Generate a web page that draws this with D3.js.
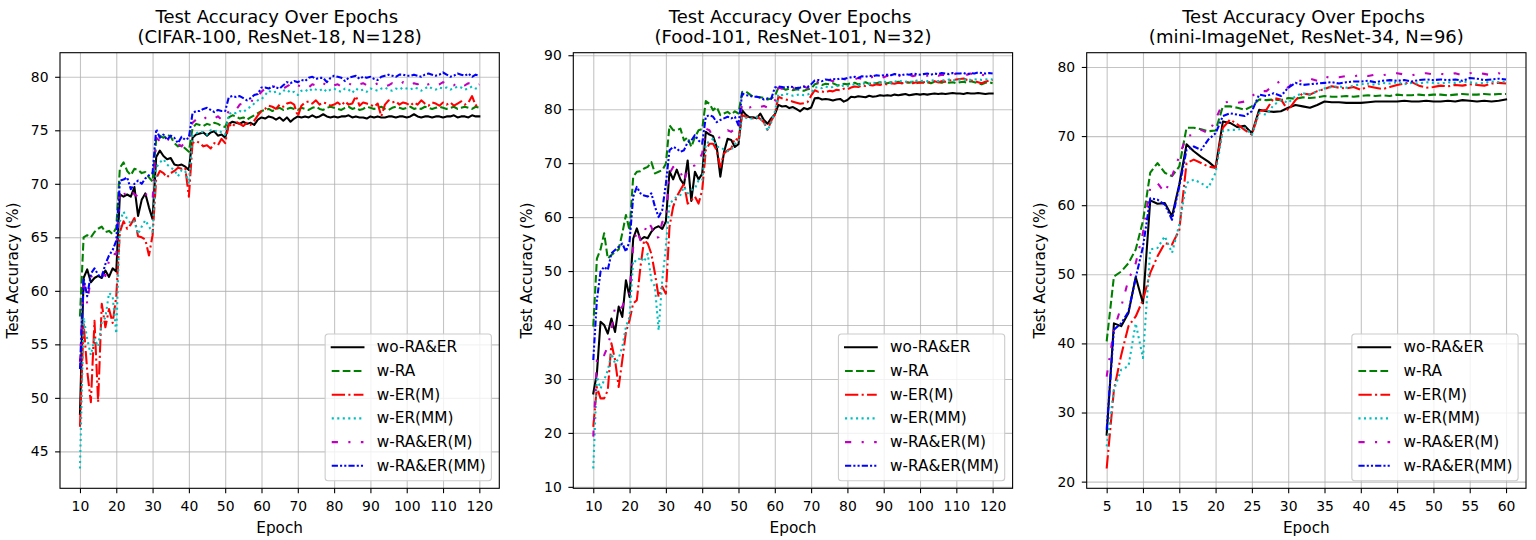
<!DOCTYPE html>
<html>
<head>
<meta charset="utf-8">
<script src="https://cdn.jsdelivr.net/npm/d3@7"></script>
<style>
  html, body { margin: 0; padding: 0; background: #ffffff; }
  svg { display: block; font-family: "DejaVu Sans", sans-serif; }
</style>
</head>
<body>
<svg id="chart" width="1536" height="540"></svg>
<script>
// ---------------- CIFAR-100 / ResNet-18 (epochs 10..120) ----------------
const cifarEpochs = d3.range(10, 121);
const cifarWoRaEr = [
  48.5, 61.2, 62.0, 60.8, 61.2, 61.4, 61.2, 61.9, 61.3, 62.1, 61.8,
  69.0, 68.8, 69.0, 68.8, 69.7, 67.0, 68.5, 69.1, 67.8, 66.7,
  72.5, 73.1, 72.6, 72.3, 72.4, 71.8, 71.7, 71.8, 71.6, 71.3,
  74.3, 74.6, 74.7, 74.8, 74.5, 74.8, 74.9, 74.5, 74.6, 74.3,
  75.6, 75.8, 75.7, 75.6, 75.8, 75.6, 75.7, 75.5, 76.0, 76.2,
  76.1, 76.3, 76.2, 76.0, 76.2, 75.9, 76.2, 75.8, 76.1, 76.3,
  76.2, 76.3, 76.2, 76.4, 76.2, 76.3, 76.5, 76.3, 76.2, 76.3,
  76.2, 76.3, 76.3, 76.4, 76.2, 76.3, 76.2, 76.2, 76.1, 76.3,
  76.2, 76.3, 76.2, 76.2, 76.3, 76.3, 76.2, 76.3, 76.3, 76.2,
  76.3, 76.5, 76.3, 76.2, 76.3, 76.3, 76.2, 76.3, 76.3, 76.2,
  76.3, 76.3, 76.4, 76.2, 76.3, 76.3, 76.2, 76.4, 76.3, 76.3
];
const cifarRA = [
  57.6, 65.0, 65.2, 65.0, 65.5, 65.8, 66.0, 65.5, 65.6, 65.3, 65.9,
  71.5, 72.0, 71.2, 70.8, 71.4, 71.3, 71.0, 71.1, 70.6, 70.2,
  74.2, 74.5, 74.3, 74.6, 74.4, 73.8, 73.5, 73.6, 73.3, 73.0,
  75.2, 75.6, 75.5, 75.4, 75.6, 75.5, 75.7, 75.6, 75.4, 75.3,
  76.2, 76.4, 76.3, 76.1, 76.2, 76.0, 76.2, 76.4, 76.6, 76.8,
  76.9, 77.0, 76.8, 77.0, 77.1, 76.9, 77.0, 77.1, 77.0, 76.9,
  77.1, 77.0, 76.9, 77.1, 77.2, 77.0, 76.9, 77.1, 77.2, 77.1,
  77.0, 76.9, 77.1, 77.2, 77.0, 77.1, 76.9, 77.0, 77.2, 77.1,
  77.0, 77.1, 77.2, 77.0, 76.9, 77.1, 77.2, 77.1, 77.0, 77.1,
  77.2, 77.0, 77.1, 77.0, 77.2, 77.1, 77.0, 77.1, 77.2, 77.1,
  77.0, 77.1, 77.2, 77.0, 77.1, 77.2, 77.1, 77.0, 77.2, 77.1
];
const cifarERM = [
  47.3, 57.0, 52.5, 49.6, 57.2, 49.6, 58.8, 56.6, 58.3, 57.0, 59.5,
  65.5, 66.5, 65.8, 66.2, 66.8, 65.1, 65.0, 64.8, 63.3, 65.2,
  70.5, 71.2, 71.0, 70.6, 71.0, 71.2, 71.5, 71.4, 71.5, 68.8,
  73.8, 74.0, 73.8, 73.5, 73.6, 73.3, 73.8, 73.6, 74.2, 73.8,
  75.6, 75.3, 75.8, 75.6, 75.4, 75.7, 75.5, 75.9, 76.4, 76.8,
  77.0, 77.3, 77.2, 77.0, 77.4, 77.2, 77.5, 77.6, 77.4, 76.3,
  77.3, 77.6, 77.7, 77.5, 77.8, 77.4, 77.6, 77.5, 77.3, 77.4,
  77.6, 77.3, 77.7, 77.4, 77.5, 78.2, 77.3, 77.6, 77.5, 77.4,
  77.2, 77.5, 76.3, 77.4, 77.8, 77.6, 77.7, 77.4, 77.6, 77.5,
  77.3, 77.6, 77.4, 77.8, 77.5, 77.3, 77.6, 77.5, 77.3, 77.6,
  77.4, 77.6, 77.3, 77.5, 77.7, 77.4, 77.6, 78.2, 77.3, 77.6
];
const cifarERMM = [
  43.4, 57.5, 55.5, 54.0, 55.5, 54.8, 57.0, 57.5, 59.8, 59.5, 56.0,
  66.5, 67.4, 66.7, 66.3, 66.5, 65.3, 66.0, 66.6, 66.0, 65.5,
  71.5, 72.0, 72.3, 71.8, 71.5, 71.3, 70.7, 71.3, 71.2, 70.0,
  74.5, 74.7, 74.9, 74.8, 74.6, 75.0, 74.9, 75.0, 74.8, 74.6,
  76.5, 76.7, 76.6, 76.8, 76.7, 77.0, 77.2, 77.5, 77.8, 77.9,
  78.3, 78.7, 78.5, 78.6, 78.4, 78.7, 78.8, 78.5, 78.6, 78.3,
  78.7, 78.8, 78.6, 78.9, 78.8, 78.7, 78.9, 78.6, 78.8, 78.9,
  78.7, 78.6, 78.9, 78.8, 78.5, 78.9, 78.7, 78.8, 78.6, 78.9,
  78.8, 78.7, 78.9, 79.0, 78.8, 78.7, 78.9, 78.8, 79.0, 78.9,
  78.8, 79.0, 78.9, 78.7, 78.9, 79.1, 78.9, 78.8, 79.0, 78.9,
  79.0, 78.8, 78.9, 79.1, 79.0, 78.8, 78.9, 79.1, 78.9, 79.0
];
const cifarRAERM = [
  53.3, 61.0, 58.8, 61.3, 61.5, 61.4, 61.6, 61.4, 62.8, 63.5, 63.4,
  69.5, 69.0, 69.2, 69.5, 69.0, 68.8, 69.2, 69.0, 69.0, 68.5,
  74.3, 74.0, 74.4, 74.2, 74.0, 73.8, 73.7, 73.5, 74.0, 74.2,
  75.7, 76.0, 76.2, 76.0, 76.3, 76.2, 76.1, 76.3, 76.0, 76.2,
  76.8, 77.0, 76.9, 77.4, 77.5, 77.6, 77.8, 77.7, 78.2, 78.6,
  78.9, 78.8, 79.0, 79.2, 79.0, 78.9, 79.1, 79.3, 79.0, 79.2,
  79.1, 79.2, 79.0, 79.3, 79.2, 79.1, 79.4, 79.2, 79.0, 79.2,
  79.3, 79.1, 79.2, 79.4, 79.2, 79.1, 79.3, 79.4, 79.2, 79.3,
  79.2, 79.4, 79.3, 79.1, 79.2, 79.4, 79.3, 79.2, 79.5, 79.3,
  79.2, 79.4, 79.3, 79.5, 79.2, 79.3, 79.4, 79.2, 79.3, 79.5,
  79.3, 79.4, 79.2, 79.5, 79.3, 79.2, 79.4, 79.3, 79.1, 79.3
];
const cifarRAERMM = [
  52.7, 61.2, 59.5, 61.6, 62.1, 61.5, 61.3, 62.5, 63.3, 63.8, 64.7,
  70.3, 70.4, 70.6, 69.5, 70.0, 70.3, 70.0, 70.5, 70.8, 71.0,
  75.1, 74.3, 74.6, 74.1, 74.5, 74.3, 73.8, 74.4, 74.1, 74.3,
  76.6, 76.8, 76.8, 77.0, 77.1, 76.9, 76.7, 76.9, 76.8, 76.8,
  78.1, 78.2, 78.1, 78.2, 78.0, 77.8, 78.0, 78.3, 78.4, 79.0,
  79.0, 78.9, 79.1, 79.0, 78.9, 79.2, 79.5, 79.4, 79.6, 79.5,
  79.7, 79.6, 79.9, 80.0, 79.8, 79.9, 79.9, 79.5, 79.9, 80.1,
  80.0, 79.9, 79.6, 79.9, 80.0, 80.1, 79.8, 80.0, 79.9, 80.0,
  79.8, 79.7, 80.0, 80.1, 80.2, 80.1, 80.0, 80.2, 80.2, 80.1,
  80.1, 80.2, 80.1, 80.0, 80.2, 80.3, 80.2, 80.1, 80.2, 80.4,
  80.2, 80.0, 80.1, 80.3, 80.2, 80.1, 80.3, 80.0, 80.2, 80.1
];
const cifarXTicks = d3.range(10, 121, 10);
const cifarYTicks = [45, 50, 55, 60, 65, 70, 75, 80];

// ---------------- Food-101 / ResNet-101 (epochs 10..120) ----------------
const foodEpochs = d3.range(10, 121);
const foodWoRaEr = [
  27.3, 31.0, 40.6, 40.0, 38.4, 41.2, 38.7, 43.4, 41.5, 48.3, 45.2,
  56.0, 57.9, 55.8, 56.3, 56.1, 57.3, 58.0, 58.3, 57.8, 59.2,
  68.5, 67.0, 68.8, 67.0, 66.0, 70.5, 63.0, 68.4, 67.0, 68.0,
  75.8, 75.3, 75.0, 73.0, 67.5, 72.0, 74.5, 74.3, 73.0, 73.5,
  79.8, 79.0, 78.5, 78.5, 78.3, 79.2, 78.0, 77.3, 78.3, 79.0,
  80.8, 80.5, 80.6, 80.2, 80.4, 80.0, 79.6, 80.2, 80.0, 80.3,
  82.0, 82.1, 81.8, 81.9, 81.8, 81.6, 81.8, 81.9, 81.4, 81.7,
  82.3, 82.2, 82.4, 82.3, 82.2, 82.5, 82.3, 82.4, 82.6, 82.5,
  82.6, 82.5, 82.7, 82.6, 82.7, 82.8, 82.6, 82.7, 82.8, 82.7,
  82.8, 82.7, 82.8, 82.9, 82.8, 82.9, 82.8, 82.9, 83.0, 82.9,
  82.9, 82.8, 83.0, 82.9, 82.9, 83.0, 82.9, 82.8, 82.9, 82.9
];
const foodRA = [
  39.7, 52.3, 54.0, 57.0, 52.3, 53.0, 53.5, 54.0, 57.0, 60.4, 57.5,
  67.5, 68.4, 68.5, 69.0, 69.3, 70.2, 68.1, 68.4, 68.7, 69.9,
  77.0, 76.1, 76.1, 76.4, 74.2, 74.8, 73.0, 74.8, 76.1, 76.3,
  81.5, 81.0, 79.8, 80.4, 78.9, 79.2, 79.5, 79.0, 79.6, 79.2,
  83.2, 83.3, 82.8, 82.3, 82.3, 82.2, 82.1, 81.8, 82.0, 82.4,
  84.0, 83.9, 83.6, 83.8, 83.5, 83.7, 83.6, 83.4, 83.7, 83.8,
  84.6, 84.8, 84.5, 84.7, 84.6, 84.8, 84.5, 84.4, 84.7, 84.6,
  84.8, 84.9, 84.6, 84.8, 85.0, 84.7, 84.9, 84.8, 85.0, 84.9,
  84.8, 85.0, 84.9, 85.1, 84.8, 85.0, 84.9, 85.1, 84.8, 85.0,
  84.9, 85.0, 84.8, 85.1, 85.0, 84.9, 85.2, 84.9, 85.0, 84.8,
  85.0, 85.1, 84.9, 85.2, 85.0, 84.8, 84.6, 84.9, 85.0, 84.8
];
const foodERM = [
  21.1, 28.5, 26.4, 26.4, 27.9, 36.6, 33.5, 28.5, 33.5, 38.7, 40.9,
  44.0, 44.6, 50.8, 55.7, 55.1, 53.2, 49.5, 45.2, 47.1, 45.8,
  58.2, 61.9, 63.8, 65.0, 66.2, 62.5, 63.1, 63.8, 62.5, 65.0,
  72.4, 73.6, 73.6, 72.4, 69.3, 71.8, 72.4, 72.7, 74.6, 74.2,
  78.9, 78.6, 78.5, 78.3, 78.6, 78.2, 77.6, 76.2, 77.8, 79.0,
  82.3, 82.0, 81.8, 81.6, 81.4, 81.2, 81.0, 81.1, 81.3, 82.5,
  83.5, 83.2, 83.3, 83.1, 83.4, 83.3, 83.6, 83.5, 83.8, 83.7,
  84.0, 84.2, 84.1, 84.4, 84.3, 84.5, 84.4, 84.6, 84.5, 84.7,
  84.6, 84.8, 84.7, 84.9, 84.8, 84.9, 85.0, 84.8, 85.0, 84.9,
  85.0, 85.1, 84.9, 85.2, 85.0, 85.2, 85.1, 85.3, 85.4, 85.5,
  85.6, 85.7, 85.4, 85.3, 85.2, 85.0, 84.8, 85.1, 85.3, 85.4
];
const foodERMM = [
  13.4, 30.4, 28.2, 29.8, 31.6, 34.7, 32.9, 33.8, 36.0, 39.7, 41.5,
  52.0, 51.7, 52.6, 51.7, 53.2, 48.3, 47.1, 39.0, 48.3, 54.5,
  62.5, 63.1, 63.8, 64.1, 65.6, 64.4, 65.0, 65.3, 66.8, 66.8,
  73.6, 74.0, 74.5, 73.0, 73.0, 72.5, 72.2, 72.5, 73.5, 74.0,
  78.6, 78.4, 78.2, 78.3, 78.5, 78.3, 77.6, 76.0, 77.5, 79.5,
  82.8, 82.6, 82.9, 82.7, 82.5, 82.6, 82.8, 82.6, 82.7, 83.0,
  84.0, 84.1, 83.9, 84.2, 84.0, 84.1, 84.3, 84.2, 84.4, 84.3,
  84.5, 84.6, 84.4, 84.7, 84.8, 84.6, 84.9, 84.8, 85.0, 85.0,
  85.1, 84.9, 85.2, 85.0, 85.3, 85.1, 85.2, 85.0, 85.3, 85.2,
  85.3, 85.2, 85.4, 85.3, 85.2, 85.4, 85.3, 85.5, 85.4, 85.3,
  85.5, 85.4, 85.6, 85.4, 85.5, 85.6, 85.4, 85.5, 85.6, 85.5
];
const foodRAERM = [
  19.3, 33.5, 34.7, 34.4, 36.0, 39.0, 43.4, 42.8, 43.4, 45.2, 45.8,
  54.5, 57.6, 55.7, 57.0, 59.1, 58.2, 56.0, 56.3, 59.1, 59.4,
  68.1, 69.3, 68.4, 68.4, 66.5, 69.0, 69.3, 69.6, 70.5, 71.8,
  76.4, 76.1, 74.8, 74.6, 74.8, 75.2, 76.1, 75.8, 76.4, 76.4,
  81.0, 80.5, 80.3, 80.5, 80.2, 80.4, 80.6, 80.3, 80.8, 81.5,
  84.0, 83.8, 83.5, 83.6, 83.9, 84.1, 83.7, 84.2, 83.9, 84.3,
  85.2, 85.0, 85.3, 85.1, 85.4, 85.2, 85.5, 85.3, 85.6, 85.4,
  85.7, 85.5, 85.8, 85.6, 85.9, 85.7, 86.0, 85.8, 86.1, 85.9,
  86.2, 86.0, 86.1, 86.3, 86.0, 86.2, 86.4, 86.1, 86.3, 86.2,
  86.4, 86.2, 86.3, 86.5, 86.2, 86.4, 86.3, 86.5, 86.4, 86.6,
  86.3, 86.5, 86.4, 86.6, 86.3, 86.5, 86.4, 86.2, 86.5, 86.3
];
const foodRAERMM = [
  33.5, 44.6, 49.9, 50.8, 50.2, 53.3, 53.9, 54.5, 55.1, 53.6, 55.5,
  63.8, 65.6, 64.4, 64.0, 63.8, 64.4, 61.9, 60.0, 61.3, 66.2,
  72.4, 73.0, 72.7, 72.1, 72.4, 73.9, 74.2, 75.2, 74.2, 73.6,
  78.6, 78.9, 78.6, 77.6, 78.0, 78.3, 78.6, 78.3, 78.6, 77.0,
  82.9, 82.6, 82.5, 82.3, 82.3, 82.1, 81.8, 82.0, 81.9, 84.0,
  84.2, 84.1, 84.0, 84.2, 84.1, 83.9, 84.0, 84.2, 84.1, 84.6,
  85.3, 85.4, 85.2, 85.5, 85.4, 85.6, 85.5, 85.7, 85.6, 85.8,
  85.9, 86.0, 85.8, 86.1, 86.0, 86.2, 86.1, 86.3, 86.2, 86.3,
  86.4, 86.3, 86.5, 86.4, 86.3, 86.5, 86.4, 86.6, 86.5, 86.4,
  86.5, 86.6, 86.4, 86.6, 86.5, 86.7, 86.6, 86.5, 86.7, 86.6,
  86.6, 86.7, 86.5, 86.7, 86.6, 86.8, 86.7, 86.6, 86.7, 86.6
];
const foodXTicks = d3.range(10, 121, 10);
const foodYTicks = d3.range(10, 91, 10);

// ---------------- mini-ImageNet / ResNet-34 (epochs 5..60) ----------------
const miniEpochs = d3.range(5, 61);
const miniWoRaEr = [
  26.8, 42.9, 42.5, 44.4, 49.6, 45.8,
  60.7, 60.2, 60.3, 58.4, 63.0, 68.8, 67.8, 67.0, 66.3, 65.4,
  72.1, 71.9, 71.3, 71.5, 70.4, 73.8, 73.6, 73.5, 73.6, 74.1,
  74.5, 74.3, 74.1, 74.5, 75.0, 74.9, 74.9, 74.8, 74.8, 74.8,
  74.9, 75.0, 75.0, 75.0, 75.0, 75.1, 75.0, 75.0, 75.1, 75.0,
  75.0, 75.1, 75.0, 75.2, 75.1, 75.0, 75.1, 75.0, 75.1, 75.3
];
const miniRA = [
  40.3, 49.7, 50.4, 51.6, 53.6, 57.7,
  64.7, 66.1, 64.7, 64.2, 65.6, 71.2, 71.2, 71.0, 70.7, 70.8,
  74.3, 74.3, 74.1, 73.8, 74.3, 75.3, 75.2, 75.3, 75.2, 75.5,
  75.4, 75.6, 75.5, 75.6, 75.8, 75.7, 75.7, 75.8, 75.7, 75.8,
  75.9, 75.8, 75.9, 75.8, 76.0, 75.9, 75.9, 76.0, 75.9, 76.0,
  76.0, 75.9, 76.0, 76.1, 76.0, 76.0, 76.1, 76.0, 76.1, 76.1
];
const miniERM = [
  21.9, 33.3, 38.3, 42.5, 43.9, 46.3,
  50.2, 52.6, 54.5, 54.3, 56.4, 66.1, 66.6, 66.1, 65.6, 65.4,
  71.2, 72.4, 71.7, 70.9, 70.2, 73.6, 73.8, 75.5, 75.3, 73.7,
  75.2, 76.2, 76.0, 76.5, 76.8, 77.2, 77.0, 76.9, 77.1, 76.7,
  77.2, 77.0, 76.8, 77.1, 77.4, 77.6, 77.8, 77.3, 77.0, 77.1,
  77.3, 77.2, 77.4, 77.3, 77.5, 77.4, 77.3, 77.6, 77.7, 77.6
];
const miniERMM = [
  25.1, 33.3, 36.2, 36.7, 42.9, 37.9,
  53.6, 53.8, 55.5, 53.1, 57.2, 63.2, 63.7, 63.2, 62.5, 64.7,
  70.7, 70.9, 70.9, 71.2, 70.2, 73.3, 73.1, 74.5, 75.2, 74.8,
  75.8, 76.2, 76.0, 76.5, 76.9, 77.1, 77.2, 77.0, 77.3, 77.5,
  77.6, 77.4, 77.7, 77.6, 77.8, 77.5, 77.7, 77.6, 77.8, 77.7,
  77.6, 77.8, 77.7, 77.9, 77.8, 77.6, 77.7, 77.9, 77.8, 77.9
];
const miniRAERM = [
  35.2, 42.0, 45.3, 49.2, 51.6, 56.0,
  62.5, 63.2, 61.8, 64.2, 67.1, 70.0, 70.2, 70.9, 70.4, 72.4,
  74.8, 75.0, 74.8, 75.0, 75.8, 76.5, 76.5, 77.4, 78.0, 77.0,
  78.2, 77.9, 78.3, 78.0, 78.6, 78.4, 78.5, 78.7, 78.6, 78.9,
  78.7, 78.9, 78.8, 79.0, 79.1, 78.9, 78.8, 79.0, 79.1, 78.9,
  79.0, 78.9, 79.1, 78.8, 79.1, 79.2, 79.0, 78.8, 79.1, 78.4
];
const miniRAERMM = [
  27.5, 42.0, 42.9, 44.6, 49.5, 54.0,
  61.0, 60.8, 60.1, 57.9, 62.7, 68.0, 68.5, 68.0, 69.5, 70.4,
  72.9, 73.3, 73.1, 72.9, 73.6, 76.0, 75.8, 76.2, 75.8, 77.0,
  77.7, 77.4, 77.5, 77.6, 77.7, 77.8, 77.6, 77.8, 77.9, 77.9,
  78.0, 77.8, 78.0, 78.1, 78.0, 78.1, 77.9, 78.1, 78.2, 78.1,
  78.2, 78.1, 78.2, 78.0, 78.4, 78.3, 78.1, 78.2, 78.3, 78.2
];
const miniXTicks = d3.range(5, 61, 5);
const miniYTicks = d3.range(20, 81, 10);

// ---------------- series labels and line styles ----------------
const seriesNames = ["wo-RA&ER", "w-RA", "w-ER(M)", "w-ER(MM)", "w-RA&ER(M)", "w-RA&ER(MM)"];
const seriesColors = ["#000000", "#008000", "#ff0000", "#00bfbf", "#bf00bf", "#0000ff"];
const seriesDashes = [null, "7.7,3.3", "13.3,3.3,2.1,3.3", "2.1,3.4", "6.2,10.4,2.1,10.4", "6.2,2.1,2.1,2.1,2.1,2.1"];

const panelTitle = "Test Accuracy Over Epochs ";
const panelSubtitles = [
  "(CIFAR-100, ResNet-18, N=128)",
  "(Food-101, ResNet-101, N=32)",
  "(mini-ImageNet, ResNet-34, N=96)"
];

const panels = [
  { subtitle: panelSubtitles[0], epochs: cifarEpochs, xTicks: cifarXTicks, yTicks: cifarYTicks,
    series: [cifarWoRaEr, cifarRA, cifarERM, cifarERMM, cifarRAERM, cifarRAERMM] },
  { subtitle: panelSubtitles[1], epochs: foodEpochs, xTicks: foodXTicks, yTicks: foodYTicks,
    series: [foodWoRaEr, foodRA, foodERM, foodERMM, foodRAERM, foodRAERMM] },
  { subtitle: panelSubtitles[2], epochs: miniEpochs, xTicks: miniXTicks, yTicks: miniYTicks,
    series: [miniWoRaEr, miniRA, miniERM, miniERMM, miniRAERM, miniRAERMM] }
];

// ---------------- layout ----------------
const axesLefts = [60, 573.3, 1086.7];
const axesWidth = 439.3;
const axesTop = 52.7;
const axesBottom = 488.3;
const axesHeight = axesBottom - axesTop;

const tickFont = 13.9;
const labelFont = 15.3;
const titleFont = 18;
const lineWidth = 2.08;

const svg = d3.select("#chart");

panels.forEach((p, pi) => {
  const left = axesLefts[pi];
  const g = svg.append("g").attr("transform", `translate(${left},${axesTop})`);

  // matplotlib-style 5% data margins
  const e0 = p.epochs[0], e1 = p.epochs[p.epochs.length - 1];
  const xPad = (e1 - e0) * 0.05;
  const allVals = p.series.flat();
  const [vMin, vMax] = d3.extent(allVals);
  const yPad = (vMax - vMin) * 0.05;

  const x = d3.scaleLinear().domain([e0 - xPad, e1 + xPad]).range([0, axesWidth]);
  const y = d3.scaleLinear().domain([vMin - yPad, vMax + yPad]).range([axesHeight, 0]);

  // grid
  const grid = g.append("g").attr("class", "grid");
  grid.append("g")
    .attr("transform", `translate(0,${axesHeight})`)
    .call(d3.axisBottom(x).tickValues(p.xTicks).tickSize(-axesHeight).tickFormat(""))
    .call(s => s.select(".domain").remove());
  grid.append("g")
    .call(d3.axisLeft(y).tickValues(p.yTicks).tickSize(-axesWidth).tickFormat(""))
    .call(s => s.select(".domain").remove());
  grid.selectAll("line").attr("stroke", "#b0b0b0").attr("stroke-opacity", 0.75).attr("stroke-width", 1.1);

  // clip region for the lines
  const clipId = `clip-${pi}`;
  g.append("clipPath").attr("id", clipId)
    .append("rect").attr("width", axesWidth).attr("height", axesHeight);

  const line = d3.line()
    .x((d, i) => x(p.epochs[i]))
    .y(d => y(d));

  const plot = g.append("g").attr("clip-path", `url(#${clipId})`);
  p.series.forEach((vals, si) => {
    plot.append("path")
      .datum(vals)
      .attr("d", line)
      .attr("fill", "none")
      .attr("stroke", seriesColors[si])
      .attr("stroke-width", lineWidth)
      .attr("stroke-linejoin", "round")
      .attr("stroke-linecap", seriesDashes[si] ? "butt" : "square")
      .attr("stroke-dasharray", seriesDashes[si]);
  });

  // axes (ticks + labels)
  const xAxis = g.append("g")
    .attr("transform", `translate(0,${axesHeight})`)
    .call(d3.axisBottom(x).tickValues(p.xTicks).tickSize(4.9).tickPadding(4.9).tickSizeOuter(0).tickFormat(d3.format("d")));
  xAxis.selectAll("text").attr("dy", "0.93em");
  const yAxis = g.append("g")
    .call(d3.axisLeft(y).tickValues(p.yTicks).tickSize(4.9).tickPadding(6.6).tickSizeOuter(0).tickFormat(d3.format("d")));
  [xAxis, yAxis].forEach(a => {
    a.select(".domain").remove();
    a.selectAll("line").attr("stroke", "#000").attr("stroke-width", 1.1);
    a.selectAll("text").attr("fill", "#000").style("font-size", tickFont + "px").style("font-family", "DejaVu Sans, sans-serif");
  });

  // frame
  g.append("rect")
    .attr("width", axesWidth).attr("height", axesHeight)
    .attr("fill", "none").attr("stroke", "#000").attr("stroke-width", 1.1);

  // titles and axis labels
  const title = g.append("text")
    .attr("x", axesWidth / 2)
    .attr("text-anchor", "middle")
    .style("font-size", titleFont + "px")
    .style("white-space", "pre")
    .attr("fill", "#000");
  title.append("tspan").attr("x", axesWidth / 2).attr("y", 22.7 - axesTop).text(panelTitle);
  title.append("tspan").attr("x", axesWidth / 2).attr("y", 43.3 - axesTop).text(p.subtitle);

  g.append("text")
    .attr("x", axesWidth / 2).attr("y", 533 - axesTop)
    .attr("text-anchor", "middle")
    .style("font-size", labelFont + "px")
    .attr("fill", "#000")
    .text("Epoch");

  g.append("text")
    .attr("transform", `translate(${-46.7},${axesHeight / 2}) rotate(-90)`)
    .attr("text-anchor", "middle")
    .attr("dominant-baseline", "central")
    .style("font-size", labelFont + "px")
    .attr("fill", "#000")
    .text("Test Accuracy (%)");

  // legend (lower right)
  const leg = g.append("g");
  const box = leg.append("rect")
    .attr("fill", "#ffffff").attr("fill-opacity", 0.8)
    .attr("stroke", "#cccccc").attr("stroke-width", 1.1)
    .attr("rx", 3).attr("ry", 3);
  const pad = 6.6, handleLen = 31.7, textGap = 13.3, rowStep = 23.7, firstRow = 13.3;
  let maxW = 0;
  seriesNames.forEach((name, si) => {
    const cy = firstRow + si * rowStep;
    leg.append("line")
      .attr("x1", pad).attr("x2", pad + handleLen)
      .attr("y1", cy).attr("y2", cy)
      .attr("stroke", seriesColors[si])
      .attr("stroke-width", lineWidth)
      .attr("stroke-linecap", seriesDashes[si] ? "butt" : "square")
      .attr("stroke-dasharray", seriesDashes[si]);
    const t = leg.append("text")
      .attr("x", pad + handleLen + textGap).attr("y", cy)
      .attr("dominant-baseline", "central")
      .style("font-size", labelFont + "px")
      .attr("fill", "#000")
      .text(name);
    maxW = Math.max(maxW, t.node().getComputedTextLength());
  });
  const boxW = pad + handleLen + textGap + maxW + 5.6;
  const boxH = 146.7;
  box.attr("width", boxW).attr("height", boxH);
  leg.attr("transform", `translate(${axesWidth - 7.9 - boxW},${axesHeight - 7.6 - boxH})`);
});
</script>
</body>
</html>
